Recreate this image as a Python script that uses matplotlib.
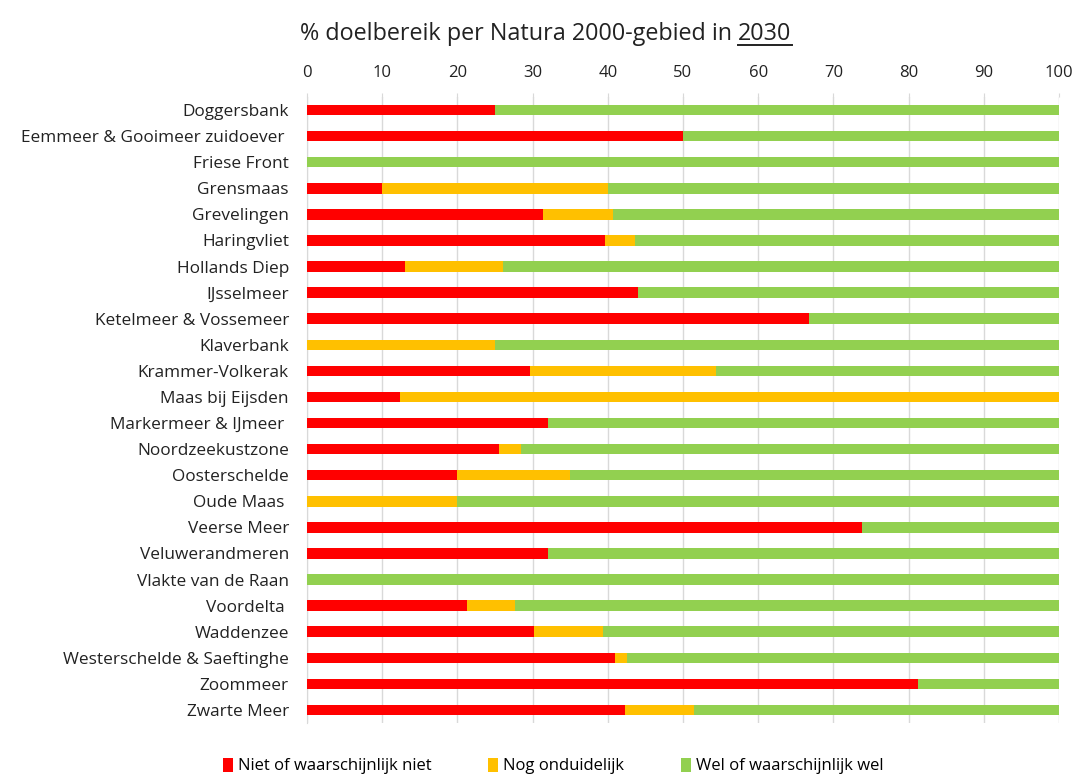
import matplotlib
matplotlib.use("Agg")
import matplotlib.pyplot as plt
import numpy as np
from matplotlib.lines import Line2D

plt.rcParams['font.family'] = ['Open Sans', 'DejaVu Sans']

gebieden = [
    "Doggersbank", "Eemmeer & Gooimeer zuidoever ", "Friese Front", "Grensmaas",
    "Grevelingen", "Haringvliet", "Hollands Diep", "IJsselmeer",
    "Ketelmeer & Vossemeer", "Klaverbank", "Krammer-Volkerak", "Maas bij Eijsden",
    "Markermeer & IJmeer ", "Noordzeekustzone", "Oosterschelde", "Oude Maas ",
    "Veerse Meer", "Veluwerandmeren", "Vlakte van de Raan", "Voordelta ",
    "Waddenzee", "Westerschelde & Saeftinghe", "Zoommeer", "Zwarte Meer",
]
niet = [25, 50, 0, 10, 31.4, 39.6, 13, 44, 66.7, 0, 29.6, 12.4,
        32, 25.5, 20, 0, 73.8, 32, 0, 21.3, 30.2, 40.9, 81.2, 42.3]
onduidelijk = [0, 0, 0, 30, 9.3, 4, 13, 0, 0, 25, 24.8, 87.6,
               0, 3, 15, 20, 0, 0, 0, 6.3, 9.2, 1.6, 0, 9.1]
wel = [100 - a - b for a, b in zip(niet, onduidelijk)]

legend_labels = ["Niet of waarschijnlijk niet", "Nog onduidelijk", "Wel of waarschijnlijk wel"]
kleuren = ["#FF0000", "#FFC000", "#92D050"]
x_ticks = list(range(0, 101, 10))

fig = plt.figure(figsize=(10.76, 7.76), dpi=100)
ax = fig.add_axes([307 / 1076, 1 - 723 / 776, 752 / 1076, 626 / 776])

y = np.arange(len(gebieden))
left = np.zeros(len(gebieden))
for vals, kleur, lab in zip([niet, onduidelijk, wel], kleuren, legend_labels):
    vals = np.array(vals)
    ax.barh(y, vals, left=left, height=0.4, color=kleur, label=lab, zorder=3)
    left += vals

ax.set_xlim(0, 100)
ax.set_ylim(len(gebieden) - 0.5, -0.5)
ax.set_yticks(y)
ax.set_yticklabels(gebieden, fontsize=12.4, color="#222222")
ax.set_xticks(x_ticks)
ax.set_xticklabels([str(t) for t in x_ticks], fontsize=12, color="#222222")
ax.xaxis.tick_top()
ax.tick_params(axis='x', length=3, color="#D9D9D9", pad=8.5)
ax.tick_params(axis='y', length=0, pad=13)
ax.grid(axis='x', color="#D9D9D9", linewidth=1, zorder=0)
for s in ["top", "right", "bottom"]:
    ax.spines[s].set_visible(False)
ax.spines["left"].set_color("#D9D9D9")

# title with underlined year
title_main = "% doelbereik per Natura 2000-gebied in "
t1 = fig.text(300 / 1076, 1 - 34 / 776, title_main, fontsize=16.8, color="#222222",
              ha="left", va="center")
fig.canvas.draw()
r = fig.canvas.get_renderer()
bb = t1.get_window_extent(r)
t2 = fig.text(bb.x1 / 1076, 1 - 34 / 776, "2030", fontsize=16.8, color="#222222",
              ha="left", va="center")
fig.canvas.draw()
bb2 = t2.get_window_extent(r)
uy = (bb2.y0 + 1) / 776
fig.add_artist(Line2D([bb2.x0 / 1076, bb2.x1 / 1076], [uy, uy],
                      color="#222222", linewidth=1.4, transform=fig.transFigure))

fig.legend(loc="center", bbox_to_anchor=(553 / 1076, 1 - 766 / 776), ncol=3,
           frameon=False, fontsize=12, handlelength=0.6, handleheight=0.9,
           handletextpad=0.3, columnspacing=3.4)

fig.savefig("out.png", dpi=100, facecolor="white")
